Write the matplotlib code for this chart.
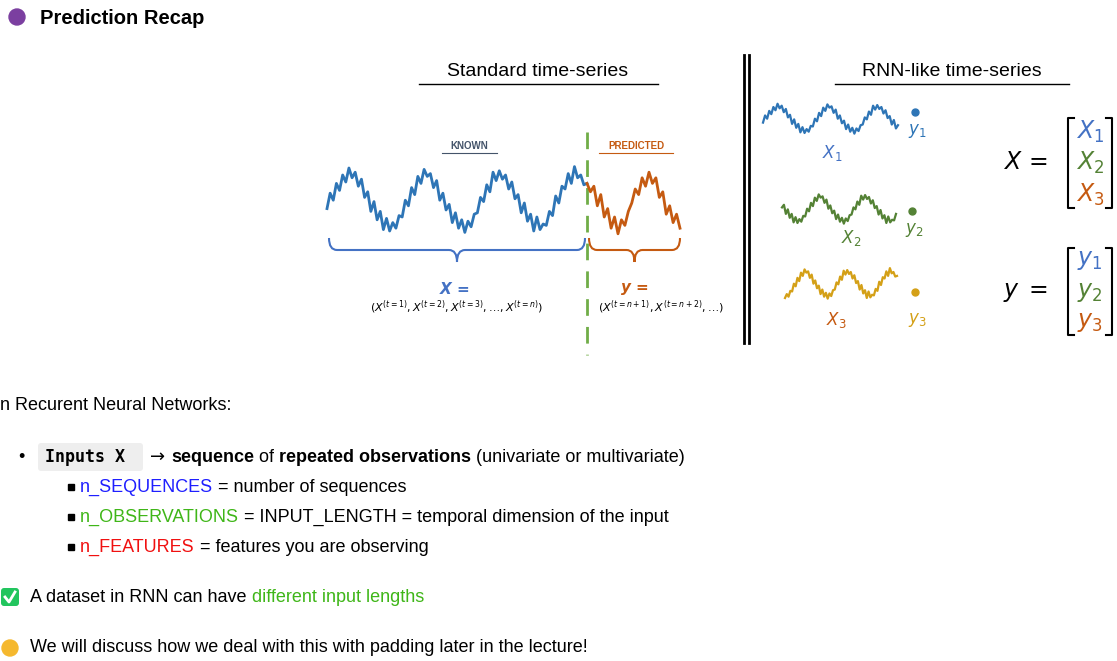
import matplotlib.pyplot as plt
from matplotlib.path import Path
from matplotlib.patches import PathPatch, FancyBboxPatch, Circle
import numpy as np

plt.rcParams["font.family"] = ["Liberation Sans", "DejaVu Sans"]

# hand-read waveform values (normalised, -1..1)
known = [-0.2, 0.35, 0.1, 0.7, 0.45, 1.0, 0.75, 1.25, 0.9, 1.1, 0.6, 0.85, 0.2, 0.4, -0.3, 0.05,
         -0.6, -0.3, -0.95, -0.55, -1.0, -0.7, -0.9, -0.45,
         -0.5, 0.1, -0.1, 0.55, 0.3, 0.95, 0.7, 1.2, 0.95, 1.05, 0.55, 0.8, 0.1, 0.35, -0.25, -0.05,
         -0.7, -0.35, -0.9, -0.6, -1.05, -0.65, -0.85, -0.4,
         -0.35, 0.2, 0.05, 0.65, 0.4, 1.1, 0.8, 1.15, 0.85, 1.0, 0.5, 0.75, 0.15, 0.3, -0.35, 0.0,
         -0.65, -0.4, -1.0, -0.5, -0.95, -0.75, -0.8, -0.3,
         -0.45, 0.25, 0.0, 0.6, 0.5, 1.05, 0.7, 1.3, 0.9, 1.0, 0.65, 0.7]
predicted = [0.4, 0.6, -0.1, 0.3, -0.5, -0.2, -0.9, -0.5, -1.1, -0.6, -0.8, -0.3, 0.0, 0.5,
             0.3, 0.9, 0.6, 1.1, 0.7, 0.9, 0.2, 0.4, -0.4, -0.1, -0.7, -0.4, -0.9]
small_x1 = known[0:66]
small_x2 = known[12:72]
small_x3 = known[20:84]

BLUE, ORANGE, GREEN, GOLD = "#2E75B6", "#C55A11", "#548235", "#D4A017"

fig = plt.figure(figsize=(11.17, 6.61), dpi=100)
ax = fig.add_axes([0, 0, 1, 1])
ax.set_xlim(0, 1117)
ax.set_ylim(661, 0)
ax.axis("off")


def wave(vals, x0, x1, yc, amp, color, lw=1.2):
    xs = np.linspace(x0, x1, len(vals))
    ax.plot(xs, yc - amp * np.array(vals), color=color, lw=lw)


def brace(x0, x1, y, h, color):
    xm = (x0 + x1) / 2
    codes = [Path.MOVETO, Path.CURVE3, Path.CURVE3, Path.LINETO, Path.CURVE3, Path.CURVE3,
             Path.MOVETO, Path.CURVE3, Path.CURVE3, Path.LINETO, Path.CURVE3, Path.CURVE3]
    verts = [(x0, y), (x0, y + h), (x0 + 8, y + h), (xm - 8, y + h), (xm, y + h), (xm, y + 2 * h),
             (xm, y + 2 * h), (xm, y + h), (xm + 8, y + h), (x1 - 8, y + h), (x1, y + h), (x1, y)]
    ax.add_patch(PathPatch(Path(verts, codes), fill=False, ec=color, lw=1.5))


def bracket(x0, x1, y0, y1):
    ax.plot([x0 + 6, x0, x0, x0 + 6], [y0, y0, y1, y1], color="black", lw=1.5)
    ax.plot([x1 - 6, x1, x1, x1 - 6], [y0, y0, y1, y1], color="black", lw=1.5)


# title
ax.add_patch(Circle((17, 17), 8, color="#7B3FA0"))
ax.text(40, 18, "Prediction Recap", fontsize=14.5, weight="bold", va="center")

# headings
for txt, xc, x0, x1 in [("Standard time-series", 538, 419, 658), ("RNN-like time-series", 952, 835, 1069)]:
    ax.text(xc, 72, txt, fontsize=14, ha="center", va="center")
    ax.plot([x0, x1], [84, 84], color="black", lw=1)
ax.plot([744, 744], [55, 343], color="black", lw=2)
ax.plot([749, 749], [55, 343], color="black", lw=2)

# standard series
ax.text(469, 146, "KNOWN", fontsize=7, weight="bold", color="#44546A", ha="center", va="center")
ax.plot([442, 497], [153, 153], color="#44546A", lw=0.8)
ax.text(636, 146, "PREDICTED", fontsize=7, weight="bold", color=ORANGE, ha="center", va="center")
ax.plot([599, 673], [153, 153], color=ORANGE, lw=0.8)
ax.plot([587, 587], [132, 355], color="#70AD47", lw=2, ls=(0, (6, 4)))
wave(known, 327, 587, 203, 28, BLUE, lw=2)
wave([known[-1]] + predicted, 587, 680, 203, 28, ORANGE, lw=2)
brace(329, 585, 238, 12, "#4472C4")
brace(589, 680, 238, 12, ORANGE)
ax.text(454, 289, r"$\boldsymbol{X}$ =", fontsize=11, color="#4472C4", ha="center", va="center",
        weight="bold", family="serif")
ax.text(457, 307, r"$(X^{(t=1)}, X^{(t=2)}, X^{(t=3)}, \ldots, X^{(t=n)})$", fontsize=8,
        ha="center", va="center")
ax.text(634, 289, r"$\boldsymbol{y}$ =", fontsize=11, color=ORANGE, ha="center", va="center",
        weight="bold", family="serif")
ax.text(661, 307, r"$(X^{(t=n+1)}, X^{(t=n+2)}, \ldots)$", fontsize=8, ha="center", va="center")

# RNN-like series
rows = [(small_x1, 763, 898, 120, BLUE, "#4472C4", 915, 112, 131, 832, 153, "1"),
        (small_x2, 782, 896, 210, GREEN, GREEN, 912, 211, 230, 851, 238, "2"),
        (small_x3, 785, 897, 285, GOLD, ORANGE, 915, 292, 320, 836, 320, "3")]
for vals, x0, x1, yc, col, lcol, dx, dy, ly, xx, xy, i in rows:
    wave(vals, x0, x1, yc, 13, col, lw=1.6)
    ax.plot(dx, dy, "o", color=col, ms=5)
    ax.text(dx + 2, ly, rf"$y_{i}$", fontsize=12, color=col, ha="center", va="center")
    ax.text(xx, xy, rf"$X_{i}$", fontsize=12, color=lcol, ha="center", va="center")

ax.text(1025, 163, r"$X\,=$", fontsize=17, ha="center", va="center")
bracket(1068, 1112, 118, 208)
for y, c, i in [(132, "#4472C4", 1), (163, GREEN, 2), (195, ORANGE, 3)]:
    ax.text(1090, y, rf"$X_{i}$", fontsize=17, color=c, ha="center", va="center")
ax.text(1025, 293, r"$y\;=$", fontsize=17, ha="center", va="center")
bracket(1068, 1112, 248, 335)
for y, c, i in [(260, "#4472C4", 1), (292, GREEN, 2), (322, ORANGE, 3)]:
    ax.text(1090, y, rf"$y_{i}$", fontsize=17, color=c, ha="center", va="center")


def chain(x, y, parts):
    t = None
    for txt, kw in parts:
        if t is None:
            t = ax.text(x, y, txt, fontsize=fs, va="center", **kw)
        else:
            t = ax.annotate(txt, xy=(1, 0.5), xycoords=t, va="center", fontsize=fs, **kw)
    return t


# notes
fs = 13
ax.text(0, 406, "n Recurent Neural Networks:", fontsize=fs, va="center")
ax.text(18, 457, "•", fontsize=fs, va="center")
ax.add_patch(FancyBboxPatch((38, 443), 105, 28, boxstyle="round,pad=0,rounding_size=3",
                            fc="#EEEEEE", ec="none"))
ax.text(45, 457, "Inputs X", fontsize=12, family="DejaVu Sans Mono", weight="bold", va="center")
chain(150, 457, [("→ ", {"family": "DejaVu Sans"}), ("sequence", {"weight": "bold"}), (" of ", {}),
                 ("repeated observations", {"weight": "bold"}), (" (univariate or multivariate)", {})])
subs = [(487, "n_SEQUENCES", "#1F1FFF", " = number of sequences"),
        (517, "n_OBSERVATIONS", "#3FB618", " = INPUT_LENGTH = temporal dimension of the input"),
        (547, "n_FEATURES", "#F01010", " = features you are observing")]
for y, key, col, rest in subs:
    ax.plot(71, y, "s", color="black", ms=4)
    chain(80, y, [(key, {"color": col}), (rest, {})])

ax.add_patch(FancyBboxPatch((1, 588), 18, 18, boxstyle="round,pad=0,rounding_size=3",
                            fc="#22C55E", ec="none"))
ax.plot([5, 9, 15], [597, 602, 592], color="white", lw=2)
chain(30, 598, [("A dataset in RNN can have ", {}), ("different input lengths", {"color": "#3FB618"})])
ax.add_patch(Circle((10, 648), 8, color="#F5B82E"))
ax.text(30, 648, "We will discuss how we deal with this with padding later in the lecture!",
        fontsize=fs, va="center")

fig.savefig("out.png", dpi=100)
